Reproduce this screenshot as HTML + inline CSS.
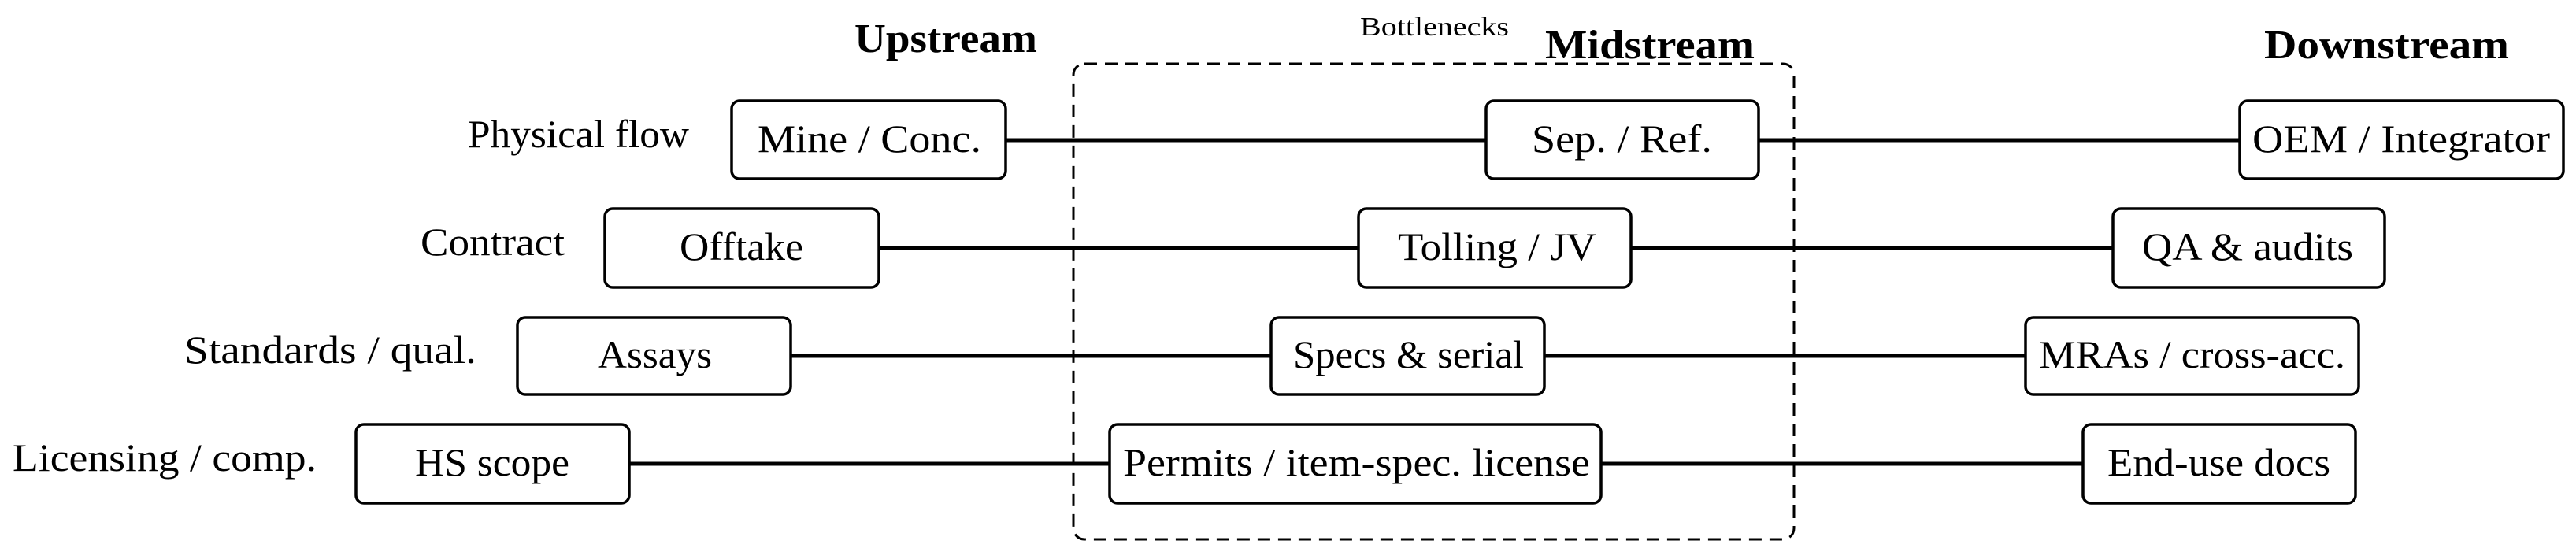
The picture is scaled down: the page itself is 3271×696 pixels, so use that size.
<!DOCTYPE html>
<html><head><meta charset="utf-8"><style>
html,body{margin:0;padding:0;background:#fff;}
svg{display:block;}
text{font-family:"Liberation Serif",serif;fill:#000;}
</style></head><body>
<svg width="3271" height="696" viewBox="0 0 3271 696" xmlns="http://www.w3.org/2000/svg">
<rect x="1363" y="81" width="915" height="604" rx="14" fill="none" stroke="#000" stroke-width="3" stroke-dasharray="16,10"/>
<g stroke="#000" stroke-width="5">
<line x1="1277" y1="178" x2="2844" y2="178"/>
<line x1="1116" y1="315" x2="2683" y2="315"/>
<line x1="1004" y1="452" x2="2572" y2="452"/>
<line x1="799" y1="589" x2="2645" y2="589"/>
</g>
<g fill="#fff" stroke="#000" stroke-width="3.5">
<rect x="929" y="128" width="348" height="99" rx="10"/>
<rect x="1887" y="128" width="346" height="99" rx="10"/>
<rect x="2844" y="128" width="411" height="99" rx="10"/>
<rect x="768" y="265" width="348" height="100" rx="10"/>
<rect x="1725" y="265" width="346" height="100" rx="10"/>
<rect x="2683" y="265" width="345" height="100" rx="10"/>
<rect x="657" y="403" width="347" height="98" rx="10"/>
<rect x="1614" y="403" width="347" height="98" rx="10"/>
<rect x="2572" y="403" width="423" height="98" rx="10"/>
<rect x="452" y="539" width="347" height="100" rx="10"/>
<rect x="1409" y="539" width="624" height="100" rx="10"/>
<rect x="2645" y="539" width="346" height="100" rx="10"/>
</g>
<g font-size="50" lengthAdjust="spacingAndGlyphs">
<text x="962" y="193" textLength="284" lengthAdjust="spacingAndGlyphs">Mine / Conc.</text>
<text x="1945" y="193" textLength="229" lengthAdjust="spacingAndGlyphs">Sep. / Ref.</text>
<text x="2860" y="193" textLength="378" lengthAdjust="spacingAndGlyphs">OEM / Integrator</text>
<text x="863" y="330" textLength="157" lengthAdjust="spacingAndGlyphs">Offtake</text>
<text x="1775" y="330" textLength="252" lengthAdjust="spacingAndGlyphs">Tolling / JV</text>
<text x="2720" y="330" textLength="268" lengthAdjust="spacingAndGlyphs">QA &amp; audits</text>
<text x="759" y="467" textLength="145" lengthAdjust="spacingAndGlyphs">Assays</text>
<text x="1642" y="467" textLength="293" lengthAdjust="spacingAndGlyphs">Specs &amp; serial</text>
<text x="2589" y="467" textLength="389" lengthAdjust="spacingAndGlyphs">MRAs / cross-acc.</text>
<text x="527" y="604" textLength="196" lengthAdjust="spacingAndGlyphs">HS scope</text>
<text x="1426" y="604" textLength="593" lengthAdjust="spacingAndGlyphs">Permits / item-spec. license</text>
<text x="2676" y="604" textLength="283" lengthAdjust="spacingAndGlyphs">End-use docs</text>
<text x="594" y="187" textLength="281" lengthAdjust="spacingAndGlyphs">Physical flow</text>
<text x="534" y="324" textLength="183" lengthAdjust="spacingAndGlyphs">Contract</text>
<text x="234" y="461" textLength="371" lengthAdjust="spacingAndGlyphs">Standards / qual.</text>
<text x="16" y="598" textLength="386" lengthAdjust="spacingAndGlyphs">Licensing / comp.</text>
</g>
<g font-size="52" font-weight="bold">
<text x="1085" y="66" textLength="232" lengthAdjust="spacingAndGlyphs">Upstream</text>
<text x="1962" y="74" textLength="266" lengthAdjust="spacingAndGlyphs">Midstream</text>
<text x="2875" y="74" textLength="311" lengthAdjust="spacingAndGlyphs">Downstream</text>
</g>
<text x="1727" y="45" font-size="34" textLength="189" lengthAdjust="spacingAndGlyphs">Bottlenecks</text>
</svg>
</body></html>
